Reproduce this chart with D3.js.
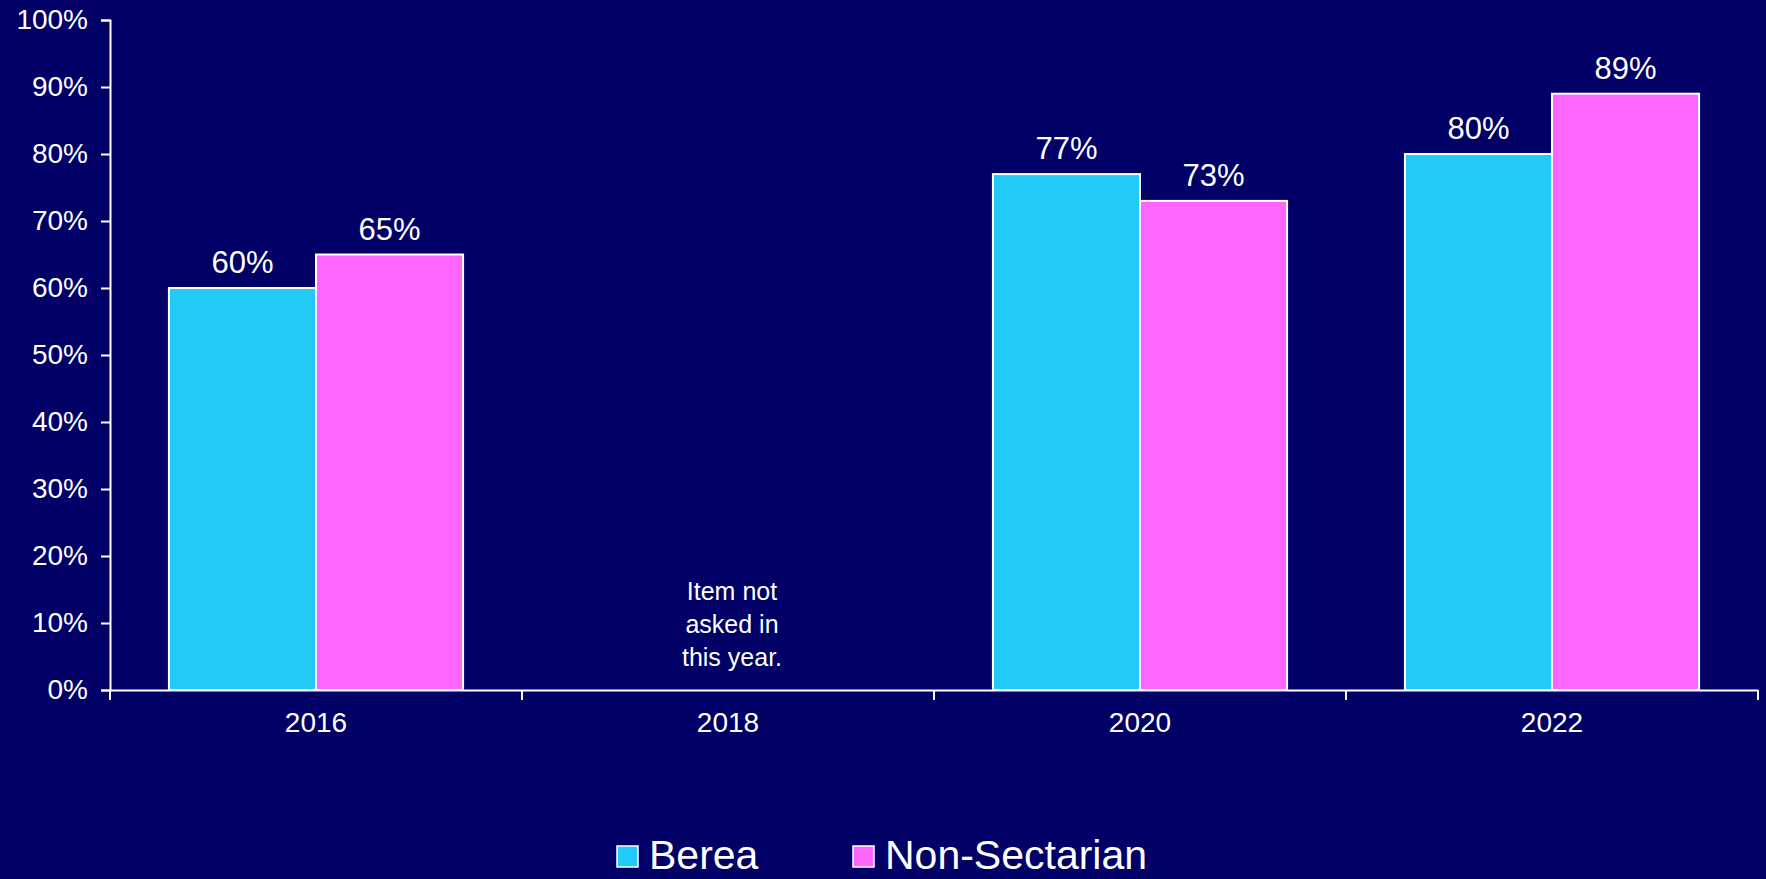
<!DOCTYPE html>
<html>
<head>
<meta charset="utf-8">
<script src="https://cdn.jsdelivr.net/npm/d3@7"></script>
<style>
  html, body { margin: 0; padding: 0; background: #000066; }
  svg { display: block; }
  text { font-family: "Liberation Sans", Arial, sans-serif; fill: #ffffff; }
</style>
</head>
<body>
<svg id="chart" width="1766" height="879"></svg>
<script>
// Survey years and series
const years = ["2016", "2018", "2020", "2022"];
const seriesNames = ["Berea", "Non-Sectarian"];
const bereaValues = [60, null, 77, 80];
const nonSectarianValues = [65, null, 73, 89];
const yTicks = [0, 10, 20, 30, 40, 50, 60, 70, 80, 90, 100];
const seriesColors = ["#22CAF7", "#FF66FF"];
const noDataNote = ["Item not", "asked in", "this year."];

const svg = d3.select("#chart");
const W = 1766, H = 879;
const margin = { left: 110, right: 8, top: 20, bottom: 189 };
const plotBottom = H - margin.bottom;   // 690

svg.append("rect").attr("width", W).attr("height", H).attr("fill", "#000066");

const x0 = d3.scaleBand().domain(years).range([margin.left, W - margin.right]).padding(0);
const bw = x0.bandwidth();
const x1 = d3.scaleBand().domain(seriesNames)
  .range([bw * 0.143, bw * 0.857]).padding(0);
const y = d3.scaleLinear().domain([0, 100]).range([plotBottom, margin.top]);

const rows = years.map((yr, i) => ({
  year: yr,
  values: [bereaValues[i], nonSectarianValues[i]]
}));

// Bars
const groups = svg.append("g").selectAll("g").data(rows).join("g")
  .attr("transform", d => `translate(${x0(d.year)},0)`);

groups.selectAll("rect")
  .data(d => d.values.map((v, j) => ({ name: seriesNames[j], v, j })).filter(e => e.v !== null))
  .join("rect")
  .attr("x", e => x1(e.name))
  .attr("y", e => y(e.v))
  .attr("width", x1.bandwidth())
  .attr("height", e => y(0) - y(e.v))
  .attr("fill", e => seriesColors[e.j])
  .attr("stroke", "#ffffff")
  .attr("stroke-width", 2);

// Value labels
groups.selectAll("text.val")
  .data(d => d.values.map((v, j) => ({ name: seriesNames[j], v })).filter(e => e.v !== null))
  .join("text")
  .attr("class", "val")
  .attr("x", e => x1(e.name) + x1.bandwidth() / 2)
  .attr("y", e => y(e.v) - 15)
  .attr("text-anchor", "middle")
  .attr("font-size", 31)
  .text(e => e.v + "%");

// Note for the year without data
const missing = rows.filter(r => r.values.every(v => v === null));
missing.forEach(r => {
  const t = svg.append("text")
    .attr("x", x0(r.year) + bw / 2 + 4)
    .attr("text-anchor", "middle")
    .attr("font-size", 25);
  noDataNote.forEach((line, k) => {
    t.append("tspan")
      .attr("x", x0(r.year) + bw / 2 + 4)
      .attr("y", 600 + k * 33)
      .text(line);
  });
});

// Y axis
const yAxis = svg.append("g")
  .attr("transform", `translate(${margin.left},0)`)
  .call(d3.axisLeft(y).tickValues(yTicks).tickSize(9).tickPadding(13).tickFormat(d => d + "%"));
yAxis.select(".domain").attr("stroke", "#fff").attr("stroke-width", 2);
yAxis.selectAll(".tick line").attr("stroke", "#fff").attr("stroke-width", 2);
yAxis.selectAll(".tick text").attr("font-size", 28).attr("fill", "#fff")
  .attr("font-family", "'Liberation Sans', Arial, sans-serif");

// X axis
const xAxis = svg.append("g")
  .attr("transform", `translate(0,${plotBottom})`)
  .call(d3.axisBottom(x0).tickSize(0).tickPadding(22));
xAxis.select(".domain").attr("stroke", "#fff").attr("stroke-width", 2);
xAxis.selectAll(".tick text").attr("font-size", 28).attr("fill", "#fff")
  .attr("font-family", "'Liberation Sans', Arial, sans-serif");
const boundaries = years.map(yr => x0(yr)).concat([x0.range()[1]]);
xAxis.selectAll("line.bound").data(boundaries).join("line")
  .attr("class", "bound")
  .attr("x1", d => d).attr("x2", d => d)
  .attr("y1", 0).attr("y2", 10)
  .attr("stroke", "#fff").attr("stroke-width", 2);

// Legend
const legendItems = [
  { name: seriesNames[0], x: 617 },
  { name: seriesNames[1], x: 853 }
];
const lg = svg.append("g");
legendItems.forEach((it, i) => {
  lg.append("rect")
    .attr("x", it.x).attr("y", 846)
    .attr("width", 21).attr("height", 21)
    .attr("fill", seriesColors[i])
    .attr("stroke", "#fff").attr("stroke-width", 1.5);
  lg.append("text")
    .attr("x", it.x + 32).attr("y", 869)
    .attr("font-size", 41)
    .text(it.name);
});
</script>
</body>
</html>
